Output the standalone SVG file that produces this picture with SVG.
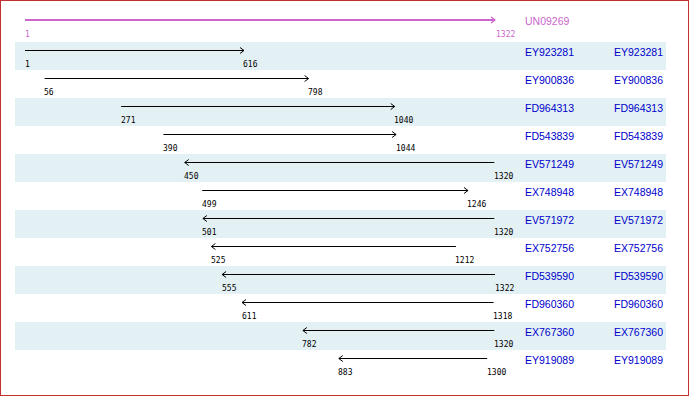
<svg xmlns="http://www.w3.org/2000/svg" width="690" height="396" viewBox="0 0 690 396">
<defs>
<style>
.bg{fill:#e3f0f4}
.ln{stroke:#000;stroke-width:1;fill:none}
.num{font-family:"DejaVu Sans Mono",monospace;font-size:8px;fill:#000}
.nm{font-family:"Liberation Sans",Arial,sans-serif;font-size:10.5px;fill:#0000cc}
.pu{fill:#cc66cc}
</style>
<marker id="ah" markerWidth="6" markerHeight="8" refX="5" refY="4" orient="auto" markerUnits="userSpaceOnUse">
<path d="M1,1 L5,4 L1,7" fill="none" stroke="#000" stroke-width="1"/>
</marker>
<marker id="ahp" markerWidth="6" markerHeight="8" refX="5" refY="4" orient="auto" markerUnits="userSpaceOnUse">
<path d="M1,1 L5,4 L1,7" fill="none" stroke="#cc66cc" stroke-width="1.2"/>
</marker>
</defs>
<rect x="0.5" y="0.5" width="688" height="395" fill="#fff" stroke="#c03030" stroke-width="1"/>
<g id="rows-bg">
<rect class="bg" x="15" y="42" width="651" height="28"/>
<rect class="bg" x="15" y="98" width="651" height="28"/>
<rect class="bg" x="15" y="154" width="651" height="28"/>
<rect class="bg" x="15" y="210" width="651" height="28"/>
<rect class="bg" x="15" y="266" width="651" height="28"/>
<rect class="bg" x="15" y="322" width="651" height="28"/>
</g>
<g id="connectors">
<line x1="25" y1="20" x2="495" y2="20" stroke="#cc66cc" stroke-width="2" marker-end="url(#ahp)"/>
<line class="ln" x1="25" y1="50.5" x2="244" y2="50.5" marker-end="url(#ah)"/>
<line class="ln" x1="44.6" y1="78.5" x2="308.6" y2="78.5" marker-end="url(#ah)"/>
<line class="ln" x1="121.1" y1="106.5" x2="394.7" y2="106.5" marker-end="url(#ah)"/>
<line class="ln" x1="163.4" y1="134.5" x2="396.1" y2="134.5" marker-end="url(#ah)"/>
<line class="ln" x1="494.3" y1="162.5" x2="184.7" y2="162.5" marker-end="url(#ah)"/>
<line class="ln" x1="202.2" y1="190.5" x2="468" y2="190.5" marker-end="url(#ah)"/>
<line class="ln" x1="494.3" y1="218.5" x2="202.9" y2="218.5" marker-end="url(#ah)"/>
<line class="ln" x1="455.9" y1="246.5" x2="211.4" y2="246.5" marker-end="url(#ah)"/>
<line class="ln" x1="495" y1="274.5" x2="222.1" y2="274.5" marker-end="url(#ah)"/>
<line class="ln" x1="493.6" y1="302.5" x2="242" y2="302.5" marker-end="url(#ah)"/>
<line class="ln" x1="494.3" y1="330.5" x2="302.9" y2="330.5" marker-end="url(#ah)"/>
<line class="ln" x1="487.2" y1="358.5" x2="338.8" y2="358.5" marker-end="url(#ah)"/>
</g>
<g id="UN09269">
<text class="num pu" x="25" y="37">1</text>
<text class="num pu" x="496" y="37">1322</text>
<text class="nm pu" x="525" y="25">UN09269</text>
</g>
<g id="EY923281"><text class="num" x="25" y="67">1</text><text class="num" x="243" y="67">616</text><text class="nm" x="525" y="56">EY923281</text><text class="nm" x="614" y="56">EY923281</text></g>
<g id="EY900836"><text class="num" x="44" y="95">56</text><text class="num" x="308" y="95">798</text><text class="nm" x="525" y="84">EY900836</text><text class="nm" x="614" y="84">EY900836</text></g>
<g id="FD964313"><text class="num" x="121" y="123">271</text><text class="num" x="394" y="123">1040</text><text class="nm" x="525" y="112">FD964313</text><text class="nm" x="614" y="112">FD964313</text></g>
<g id="FD543839"><text class="num" x="163" y="151">390</text><text class="num" x="396" y="151">1044</text><text class="nm" x="525" y="140">FD543839</text><text class="nm" x="614" y="140">FD543839</text></g>
<g id="EV571249"><text class="num" x="184" y="179">450</text><text class="num" x="494" y="179">1320</text><text class="nm" x="525" y="168">EV571249</text><text class="nm" x="614" y="168">EV571249</text></g>
<g id="EX748948"><text class="num" x="202" y="207">499</text><text class="num" x="467" y="207">1246</text><text class="nm" x="525" y="196">EX748948</text><text class="nm" x="614" y="196">EX748948</text></g>
<g id="EV571972"><text class="num" x="202" y="235">501</text><text class="num" x="494" y="235">1320</text><text class="nm" x="525" y="224">EV571972</text><text class="nm" x="614" y="224">EV571972</text></g>
<g id="EX752756"><text class="num" x="211" y="263">525</text><text class="num" x="455" y="263">1212</text><text class="nm" x="525" y="252">EX752756</text><text class="nm" x="614" y="252">EX752756</text></g>
<g id="FD539590"><text class="num" x="222" y="291">555</text><text class="num" x="495" y="291">1322</text><text class="nm" x="525" y="280">FD539590</text><text class="nm" x="614" y="280">FD539590</text></g>
<g id="FD960360"><text class="num" x="242" y="319">611</text><text class="num" x="493" y="319">1318</text><text class="nm" x="525" y="308">FD960360</text><text class="nm" x="614" y="308">FD960360</text></g>
<g id="EX767360"><text class="num" x="302" y="347">782</text><text class="num" x="494" y="347">1320</text><text class="nm" x="525" y="336">EX767360</text><text class="nm" x="614" y="336">EX767360</text></g>
<g id="EY919089"><text class="num" x="338" y="375">883</text><text class="num" x="487" y="375">1300</text><text class="nm" x="525" y="364">EY919089</text><text class="nm" x="614" y="364">EY919089</text></g>
</svg>
